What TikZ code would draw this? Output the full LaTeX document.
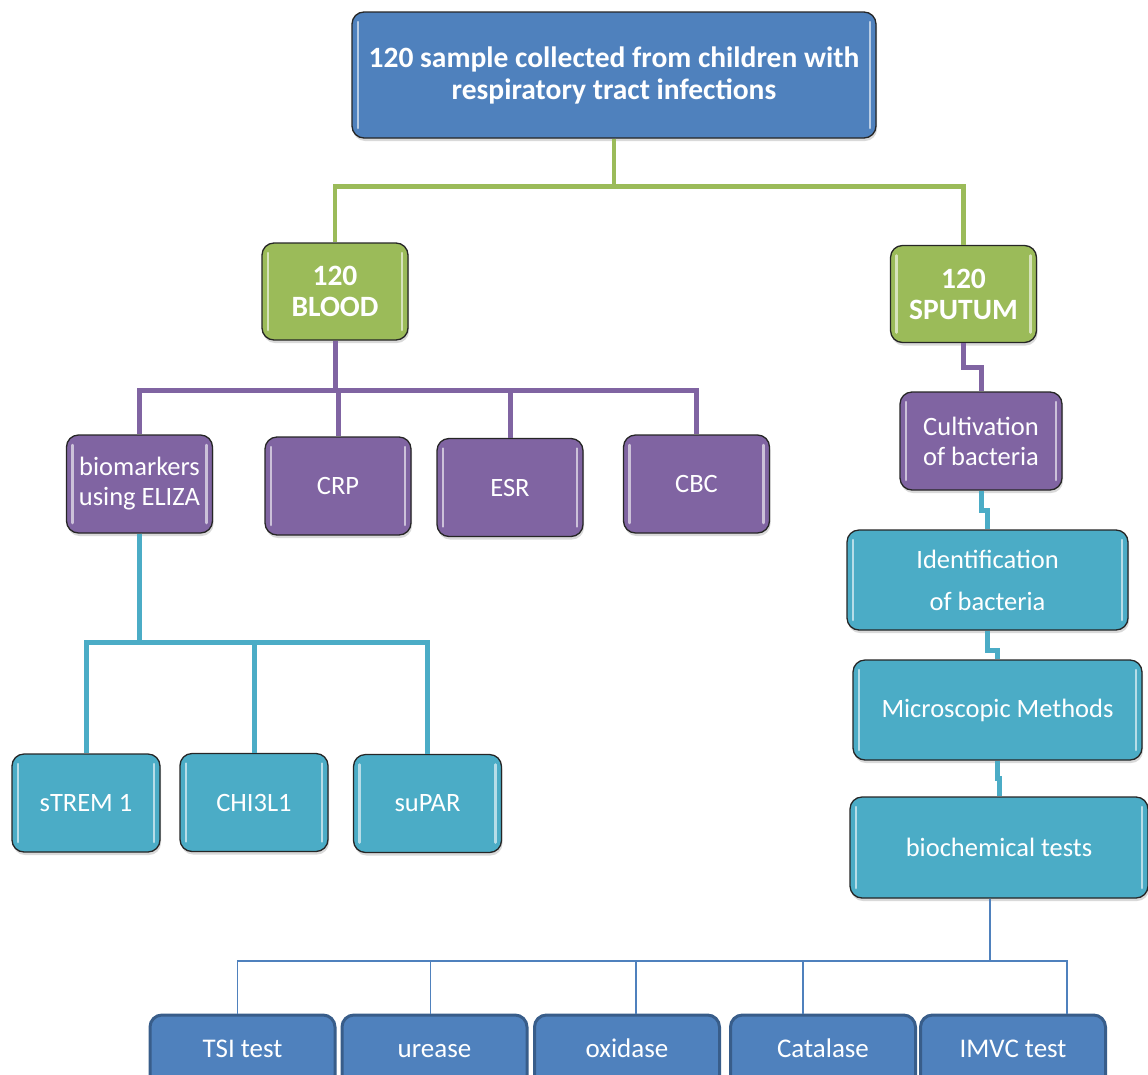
\documentclass[tikz,border=0pt]{standalone}
\usepackage{fontspec}
\setmainfont{Carlito}
\usetikzlibrary{positioning, shadows}

\definecolor{offblue}{HTML}{4F81BD}
\definecolor{offgreen}{HTML}{9BBB59}
\definecolor{offpurple}{HTML}{8064A2}
\definecolor{offcyan}{HTML}{4BACC6}
\definecolor{offdark}{HTML}{385D8A}

\begin{document}
\begin{tikzpicture}[x=1pt, y=-1pt, thick]

		\path[use as bounding box, clip] (0,0) rectangle (1148,1074);

		\tikzstyle{gloss}=[path picture={
			\draw[white, opacity=0.6, line width=2.5pt, line cap=round] ([xshift=6pt,yshift=-10pt]path picture bounding box.north west) -- ([xshift=6pt,yshift=10pt]path picture bounding box.south west);
			\draw[white, opacity=0.6, line width=2.5pt, line cap=round] ([xshift=-6pt,yshift=-10pt]path picture bounding box.north east) -- ([xshift=-6pt,yshift=10pt]path picture bounding box.south east);}]
		\tikzstyle{box}=[rectangle, rounded corners=12pt, draw=black!85, line width=1.3pt, text=white, align=center, inner sep=2pt, drop shadow={shadow xshift=1pt, shadow yshift=-3pt, opacity=0.3}, font=\fontsize{26.5}{30}\selectfont]
		\tikzstyle{sample}=[box, gloss, fill=offblue, minimum width=524pt, minimum height=126pt, font=\fontsize{29.5}{32}\selectfont\bfseries]
		\tikzstyle{specimen}=[box, gloss, fill=offgreen, minimum width=146pt, minimum height=97pt, font=\fontsize{29.5}{31}\selectfont\bfseries]
		\tikzstyle{assay}=[box, gloss, fill=offpurple, minimum width=146pt, minimum height=98pt]
		\tikzstyle{marker}=[box, gloss, fill=offcyan, minimum width=148pt, minimum height=98pt]
		\tikzstyle{biochem}=[box, fill=offblue, draw=offdark, line width=3pt, minimum width=185pt, minimum height=72pt, text height=19pt, text depth=6pt, font=\fontsize{27}{30}\selectfont]
		\tikzstyle{gline}=[offgreen, line width=4.5pt]
		\tikzstyle{pline}=[offpurple, line width=5pt]
		\tikzstyle{cline}=[offcyan, line width=5pt]
		\tikzstyle{bline}=[offblue, line width=1.8pt]

		\node[sample] (sample) at (614,75) {120 sample collected from children with\\respiratory tract infections};

		\node[specimen] (blood) at (335,291.5) {120\\BLOOD};
		\node[specimen] (sputum) at (963.5,294) {120\\SPUTUM};

		% blood tests
		\node[assay] (elisa) at (139.5,484) {biomarkers\\using ELIZA};
		\node[assay] (crp) at (338,486) {CRP};
		\node[assay] (esr) at (510,487.5) {ESR};
		\node[assay] (cbc) at (696.5,484) {CBC};

		\node[marker] (strem) at (86,803) {sTREM 1};
		\node[marker] (chi) at (254,802.5) {CHI3L1};
		\node[marker] (supar) at (427.5,803.5) {suPAR};

		% sputum chain
		\node[assay, minimum width=162pt] (cult) at (981,441) {Cultivation\\of bacteria};
		\node[marker, minimum width=281pt, minimum height=100pt] (ident) at (987.5,580) {Identification\\[12pt]of bacteria};
		\node[marker, minimum width=289pt, minimum height=100pt] (micro) at (997.5,710) {Microscopic Methods};
		\node[marker, minimum width=298pt, minimum height=101pt] (bio) at (999,847.5) {biochemical tests};

		\node[biochem] (tsi) at (242.5,1051) {TSI test};
		\node[biochem] (urease) at (434.5,1051) {urease};
		\node[biochem] (oxidase) at (627,1051) {oxidase};
		\node[biochem] (catalase) at (823,1051) {Catalase};
		\node[biochem] (imvc) at (1013,1051) {IMVC test};

		% links
		\draw[gline] (sample.south) -- ++(0,48) -| (blood.north);
		\draw[gline] (sample.south) -- ++(0,48) -| (sputum.north);

		\draw[pline] (blood.south) -- ++(0,50) -| (elisa.north);
		\draw[pline] (blood.south) -- ++(0,50) -| (crp.north);
		\draw[pline] (blood.south) -- ++(0,50) -| (esr.north);
		\draw[pline] (blood.south) -- ++(0,50) -| (cbc.north);

		\draw[cline] (elisa.south) -- ++(0,109) -| (strem.north);
		\draw[cline] (elisa.south) -- ++(0,109) -| (chi.north);
		\draw[cline] (elisa.south) -- ++(0,109) -| (supar.north);

		\draw[pline] (sputum.south) -- ++(0,24) -| (cult.north);
		\draw[cline] (cult.south) -- ++(0,20) -| (ident.north);
		\draw[cline] (ident.south) -- ++(0,20) -| (micro.north);
		\draw[cline] (micro.south) -- ++(0,18) -| (bio.north);

		\coordinate (tbus) at (990,961);
		\draw[bline] ([xshift=-9pt]bio.south) -- (tbus);
		\draw[bline] (tbus) -| ([xshift=-5pt]tsi.north);
		\draw[bline] (tbus) -| ([xshift=-4pt]urease.north);
		\draw[bline] (tbus) -| ([xshift=9pt]oxidase.north);
		\draw[bline] (tbus) -| ([xshift=-20pt]catalase.north);
		\draw[bline] (tbus) -| ([xshift=54pt]imvc.north);
\end{tikzpicture}
\end{document}
